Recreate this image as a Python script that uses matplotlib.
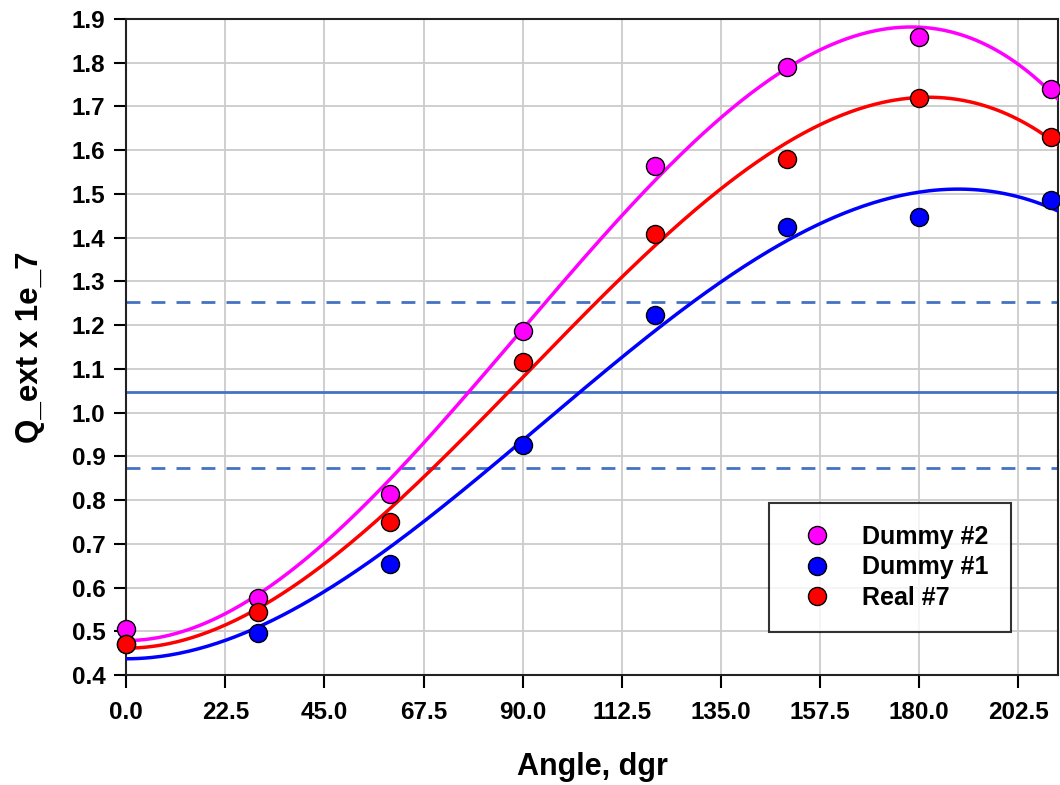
import numpy as np
import matplotlib
matplotlib.use('Agg')
import matplotlib.pyplot as plt

plt.rcParams['font.family'] = ['Liberation Sans', 'DejaVu Sans']
plt.rcParams['font.weight'] = 'bold'

# Datos
angulos = [0, 30, 60, 90, 120, 150, 180, 210]
dummy2 = [0.505, 0.577, 0.813, 1.187, 1.563, 1.790, 1.858, 1.740]
dummy1 = [0.470, 0.497, 0.655, 0.925, 1.222, 1.425, 1.447, 1.487]
real7 = [0.470, 0.545, 0.750, 1.115, 1.408, 1.580, 1.720, 1.630]

nivel_medio = 1.048
nivel_alto = 1.253
nivel_bajo = 0.873

xticks = [0.0, 22.5, 45.0, 67.5, 90.0, 112.5, 135.0, 157.5, 180.0, 202.5]
yticks = [0.4, 0.5, 0.6, 0.7, 0.8, 0.9, 1.0, 1.1, 1.2, 1.3, 1.4, 1.5, 1.6, 1.7, 1.8, 1.9]


def base(x):
    # polinomio y = a + c*x^2 + d*x^3 (pendiente nula en 0)
    x = np.asarray(x, float)
    return np.column_stack([np.ones_like(x), x ** 2, x ** 3])


fig = plt.figure(figsize=(10.6, 7.85), dpi=100)
ax = fig.add_axes([0.119, 0.140, 0.879, 0.836])

x_fit = np.linspace(0, 212, 300)
series = [(dummy2, '#ff00ff', 'Dummy #2'),
          (dummy1, '#0000ff', 'Dummy #1'),
          (real7, '#ff0000', 'Real #7')]

# Curvas de ajuste
for datos, color, etiqueta in series:
    coef = np.linalg.lstsq(base(angulos), np.asarray(datos), rcond=None)[0]
    ax.plot(x_fit, base(x_fit) @ coef, color=color, lw=2.5, zorder=3)

for datos, color, etiqueta in series:
    ax.plot(angulos, datos, 'o', color=color, mec='black', mew=1.0, ms=13,
            label=etiqueta, zorder=4, clip_on=False)

ax.axhline(nivel_medio, color='#4472c4', lw=2, zorder=2)
ax.axhline(nivel_alto, color='#4472c4', lw=2, ls=(0, (5, 4)), zorder=2)
ax.axhline(nivel_bajo, color='#4472c4', lw=2, ls=(0, (5, 4)), zorder=2)

ax.set_xlim(0, 211.5)
ax.set_ylim(0.4, 1.9)
ax.set_xticks(xticks)
ax.set_xticklabels(['%.1f' % t for t in xticks])
ax.set_yticks(yticks)
ax.set_yticklabels(['%.1f' % t for t in yticks])
ax.tick_params(axis='both', labelsize=17.5, direction='out', length=9, width=1.5, pad=10)
ax.tick_params(axis='y', pad=6)
ax.grid(True, color='#cccccc', lw=1.3, zorder=0)
ax.set_axisbelow(True)
for s in ax.spines.values():
    s.set_linewidth(1.5)
    s.set_color('#222222')

ax.set_xlabel('Angle, dgr', fontsize=22, fontweight='bold', labelpad=20)
ax.set_ylabel('Q_ext x 1e_7', fontsize=22.5, fontweight='bold')
ax.yaxis.set_label_coords(-0.087, 0.5)

leg = ax.legend(loc='lower right', bbox_to_anchor=(0.9496, 0.0655), fontsize=18,
                frameon=True, fancybox=False, edgecolor='black', borderpad=0.9,
                handlelength=2.0, handletextpad=0.8, labelspacing=0.25,
                borderaxespad=0)
leg.get_frame().set_linewidth(1.5)
leg.set_zorder(5)

plt.savefig('out.png', dpi=100)
